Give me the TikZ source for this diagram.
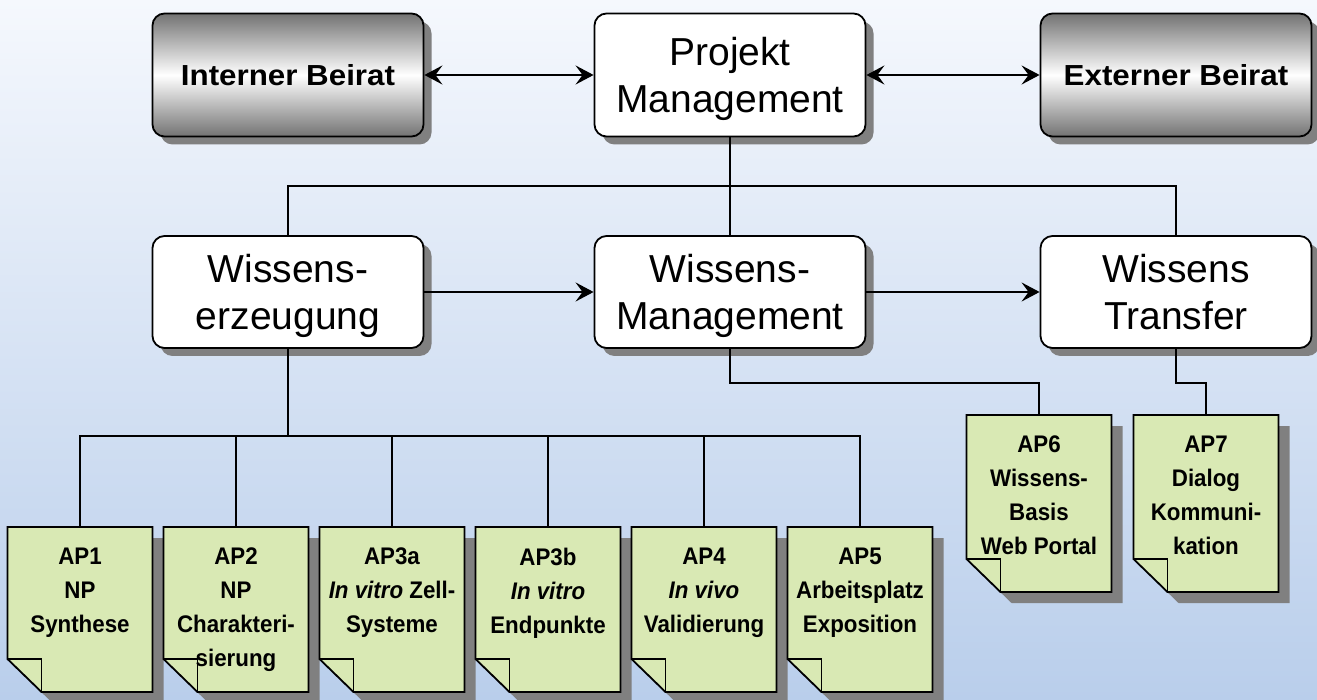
\documentclass[tikz,border=0pt]{standalone}
\usepackage{fontspec}
\setmainfont{Liberation Sans}
\newfontfamily\headfont[FakeStretch=1.08]{Liberation Sans}
\newfontfamily\apfont[FakeStretch=0.93]{Liberation Sans}
\usetikzlibrary{arrows.meta,shadows}

\definecolor{bgtop}{HTML}{F5F8FD}
\definecolor{bgbottom}{HTML}{B9CEEB}
\definecolor{notegreen}{HTML}{D9E9B4}

% work-package sheet with folded lower-left corner
\newcommand\notesheet[5]{% #1 name, #2 centre x, #3 top y, #4 bottom y, #5 text
  \fill[black!50, shift={(11,11)}]
    (#2-72.5,#3) -- (#2+72.5,#3) -- (#2+72.5,#4) -- (#2-38.5,#4) -- (#2-72.5,#4-33) -- cycle;
  \draw[sheet]
    (#2-72.5,#3) -- (#2+72.5,#3) -- (#2+72.5,#4) -- (#2-38.5,#4) -- (#2-72.5,#4-33) -- cycle;
  \draw[sheetline] (#2-72.5,#4-33) -- (#2-38.5,#4-33) -- (#2-38.5,#4);
  \node[sheetarea, minimum height={#4-#3}] (#1) at (#2,{(#3+#4)/2}) {};
  \node[sheettext] (#1t) at (#2,#3+20.5) {#5};
}

\begin{document}
\begin{tikzpicture}[x=1pt,y=-1pt,
  conn/.style={line width=2pt},
  arr/.style={conn,-{Stealth[length=18pt,width=19pt,inset=7pt]}},
  darr/.style={conn,{Stealth[length=18pt,width=19pt,inset=7pt]}-{Stealth[length=18pt,width=19pt,inset=7pt]}},
  box/.style={draw=black, line width=1.8pt, rounded corners=12pt,
    minimum width=271pt, inner sep=0pt, align=center,
    drop shadow={shadow xshift=8pt, shadow yshift=-8pt, fill=black!50, opacity=1}},
  greybox/.style={box, minimum height=123pt, top color=black!55, bottom color=black!55,
    middle color=white, font=\headfont\bfseries\fontsize{29}{34}\selectfont},
  whitebox/.style={box, fill=white, font=\fontsize{39}{47}\selectfont},
  sheet/.style={fill=notegreen, draw=black, line width=1.8pt, line join=miter},
  sheetline/.style={draw=black, line width=1.8pt},
  sheetarea/.style={minimum width=145pt, inner sep=0pt, outer sep=0pt},
  sheettext/.style={anchor=north, inner sep=0pt, align=center,
    font=\apfont\bfseries\fontsize{24}{34}\selectfont}
]
\useasboundingbox (0,0) rectangle (1317,700);
\shade[top color=bgtop, bottom color=bgbottom] (0,0) rectangle (1317,700);

% top row
\node[greybox] (ib) at (288,75) {Interner Beirat};
\node[whitebox, minimum height=123pt] (pm) at (730,75) {Projekt\\\smash{Management}};
\node[greybox] (eb) at (1176,75) {Externer Beirat};

% second row
\node[whitebox, minimum height=112pt] (we) at (288,292) {Wissens-\\\smash{erzeugung}};
\node[whitebox, minimum height=112pt] (wm) at (730,292) {Wissens-\\\smash{Management}};
\node[whitebox, minimum height=112pt] (wt) at (1176,292) {Wissens\\Transfer};

% work packages
\notesheet{ap1}{80}{527}{692}{AP1\\NP\\Synthese}
\notesheet{ap2}{236}{527}{692}{AP2\\NP\\Charakteri-\\sierung}
\notesheet{ap3a}{392}{527}{692}{AP3a\\\textit{In vitro} Zell-\\Systeme}
\notesheet{ap3b}{548}{527}{692}{AP3b\\\textit{In vitro}\\Endpunkte}
\notesheet{ap4}{704}{527}{692}{AP4\\\textit{In vivo}\\Validierung}
\notesheet{ap5}{860}{527}{692}{AP5\\Arbeitsplatz\\Exposition}
\notesheet{ap6}{1039}{415}{592}{AP6\\Wissens-\\Basis\\Web Portal}
\notesheet{ap7}{1206}{415}{592}{AP7\\Dialog\\Kommuni-\\kation}

% connectors
\draw[darr] (ib.east) -- (pm.west);
\draw[darr] (pm.east) -- (eb.west);
\draw[arr] (we.east) -- (wm.west);
\draw[arr] (wm.east) -- (wt.west);

\coordinate (hub) at (730,186);
\draw[conn] (pm.south) -- (hub);
\draw[conn] (we.north) |- (hub) -| (wt.north);
\draw[conn] (hub) -- (wm.north);

\coordinate (tree) at (288,436);
\draw[conn] (we.south) -- (tree);
\foreach \n in {ap1,ap2,ap3a,ap3b,ap4,ap5}
  \draw[conn] (tree) -| (\n.north);

\draw[conn] (wm.south) -- ++(0,34) -| (ap6.north);
\draw[conn] (wt.south) -- ++(0,34) -| (ap7.north);
\end{tikzpicture}
\end{document}
